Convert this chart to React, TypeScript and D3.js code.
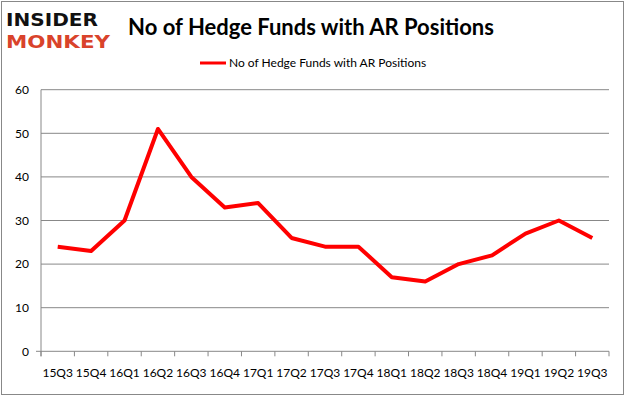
import React, { useEffect, useRef } from 'react';
import * as d3 from 'd3';

const quarters = ['15Q3', '15Q4', '16Q1', '16Q2', '16Q3', '16Q4', '17Q1', '17Q2', '17Q3', '17Q4', '18Q1', '18Q2', '18Q3', '18Q4', '19Q1', '19Q2', '19Q3'];
const hedgeFunds = [24, 23, 30, 51, 40, 33, 34, 26, 24, 24, 17, 16, 20, 22, 27, 30, 26];
const yTicks = [0, 10, 20, 30, 40, 50, 60];
const seriesName = 'No of Hedge Funds with AR Positions';

const App = () => {
    const svgRef = useRef<SVGSVGElement>(null);

    useEffect(() => {
        const width = 626;
        const height = 397;
        const font = 'Lato, "Open Sans", sans-serif';

        const svg = d3.select(svgRef.current);
        svg.selectAll('*').remove();
        svg.attr('width', width).attr('height', height);

        // outer frame
        svg.append('rect')
            .attr('x', 1.5).attr('y', 1.5)
            .attr('width', 622).attr('height', 393)
            .attr('fill', '#fff')
            .attr('stroke', '#888');

        const left = 41, right = 609, top = 89.7, bottom = 351.3;

        const x = d3.scaleBand().domain(quarters).range([left, right]);
        const y = d3.scaleLinear().domain([0, 60]).range([bottom, top]);

        // gridlines
        svg.append('g')
            .selectAll('line')
            .data(yTicks)
            .enter()
            .append('line')
            .attr('x1', left).attr('x2', right)
            .attr('y1', d => y(d)).attr('y2', d => y(d))
            .attr('stroke', '#888').attr('stroke-width', 1);

        // y axis line
        svg.append('line')
            .attr('x1', left).attr('x2', left)
            .attr('y1', top).attr('y2', bottom + 5)
            .attr('stroke', '#888');
        svg.append('line')
            .attr('x1', left - 5).attr('x2', left)
            .attr('y1', bottom).attr('y2', bottom)
            .attr('stroke', '#888');

        // y labels
        svg.append('g')
            .selectAll('text')
            .data(yTicks)
            .enter()
            .append('text')
            .attr('x', 29)
            .attr('y', d => y(d))
            .attr('dy', '0.35em')
            .attr('text-anchor', 'end')
            .style('font-family', font)
            .style('font-size', '12px')
            .attr('fill', '#000')
            .text(d => d);

        // x ticks at band boundaries
        const boundaries = quarters.map(q => x(q) as number).concat([right]);
        svg.append('g')
            .selectAll('line')
            .data(boundaries)
            .enter()
            .append('line')
            .attr('x1', d => d).attr('x2', d => d)
            .attr('y1', bottom).attr('y2', bottom + 5)
            .attr('stroke', '#888');

        // x labels
        svg.append('g')
            .selectAll('text')
            .data(quarters)
            .enter()
            .append('text')
            .attr('x', d => (x(d) as number) + x.bandwidth() / 2)
            .attr('y', 377)
            .attr('text-anchor', 'middle')
            .style('font-family', font)
            .style('font-size', '12px')
            .attr('fill', '#000')
            .text(d => d);

        // series line
        const line = d3.line<number>()
            .x((d, i) => (x(quarters[i]) as number) + x.bandwidth() / 2)
            .y(d => y(d));

        svg.append('path')
            .datum(hedgeFunds)
            .attr('d', line)
            .attr('fill', 'none')
            .attr('stroke', '#ff0000')
            .attr('stroke-width', 4)
            .attr('stroke-linejoin', 'round');

        // title
        svg.append('text')
            .attr('x', 311)
            .attr('y', 35)
            .attr('text-anchor', 'middle')
            .style('font-family', font)
            .style('font-size', '22px')
            .style('font-weight', '700')
            .attr('fill', '#000')
            .text(seriesName);

        // legend
        svg.append('line')
            .attr('x1', 200).attr('x2', 226)
            .attr('y1', 63).attr('y2', 63)
            .attr('stroke', '#ff0000').attr('stroke-width', 3);
        svg.append('text')
            .attr('x', 229)
            .attr('y', 63)
            .attr('dy', '0.35em')
            .style('font-family', font)
            .style('font-size', '12px')
            .attr('fill', '#000')
            .text(seriesName);

        // logo
        svg.append('text')
            .attr('x', 6).attr('y', 26)
            .style('font-family', '"DejaVu Sans", sans-serif')
            .style('font-size', '18px')
            .style('font-weight', '900')
            .attr('textLength', 92)
            .attr('lengthAdjust', 'spacingAndGlyphs')
            .attr('fill', '#111')
            .text('INSIDER');
        svg.append('text')
            .attr('x', 6).attr('y', 48)
            .style('font-family', '"DejaVu Sans", sans-serif')
            .style('font-size', '18px')
            .style('font-weight', '900')
            .attr('textLength', 104)
            .attr('lengthAdjust', 'spacingAndGlyphs')
            .attr('fill', '#d9432b')
            .text('MONKEY');
    }, []);

    return (
        <div style={{ position: 'absolute', left: 0, top: 0 }}>
            <svg ref={svgRef} style={{ display: 'block' }}></svg>
        </div>
    );
};

export default App;
